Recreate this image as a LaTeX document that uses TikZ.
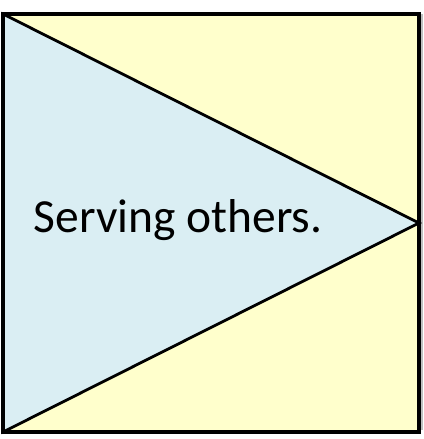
\documentclass[tikz,border=0pt]{standalone}
\usepackage{fontspec}
\setmainfont{Carlito}
\definecolor{boxyellow}{HTML}{FFFFCC}
\definecolor{triblue}{HTML}{DAEEF3}
\tikzset{
  frame/.style={draw=black, line width=3.5pt, fill=boxyellow},
  tri/.style={draw=black, line width=2.8pt, fill=triblue, line join=miter},
  label/.style={font=\fontsize{47.5}{57}\selectfont, text=black, inner sep=0pt, anchor=base}
}
\begin{document}
\begin{tikzpicture}[x=1pt,y=1pt]
\useasboundingbox (0,0) rectangle (423,439);
\fill[gray!50] (420,9) rectangle (423,425);
\coordinate (tl) at (3,425);
\coordinate (bl) at (3,7);
\coordinate (apex) at (419,216);
\draw[frame] (bl) rectangle (419,425);
\draw[tri] (tl) -- (apex) -- (bl) -- cycle;
\draw[black, line width=3.5pt] (bl) rectangle (419,425);
\node[label] (txt) at (178,206) {Serving others.};
\end{tikzpicture}
\end{document}
